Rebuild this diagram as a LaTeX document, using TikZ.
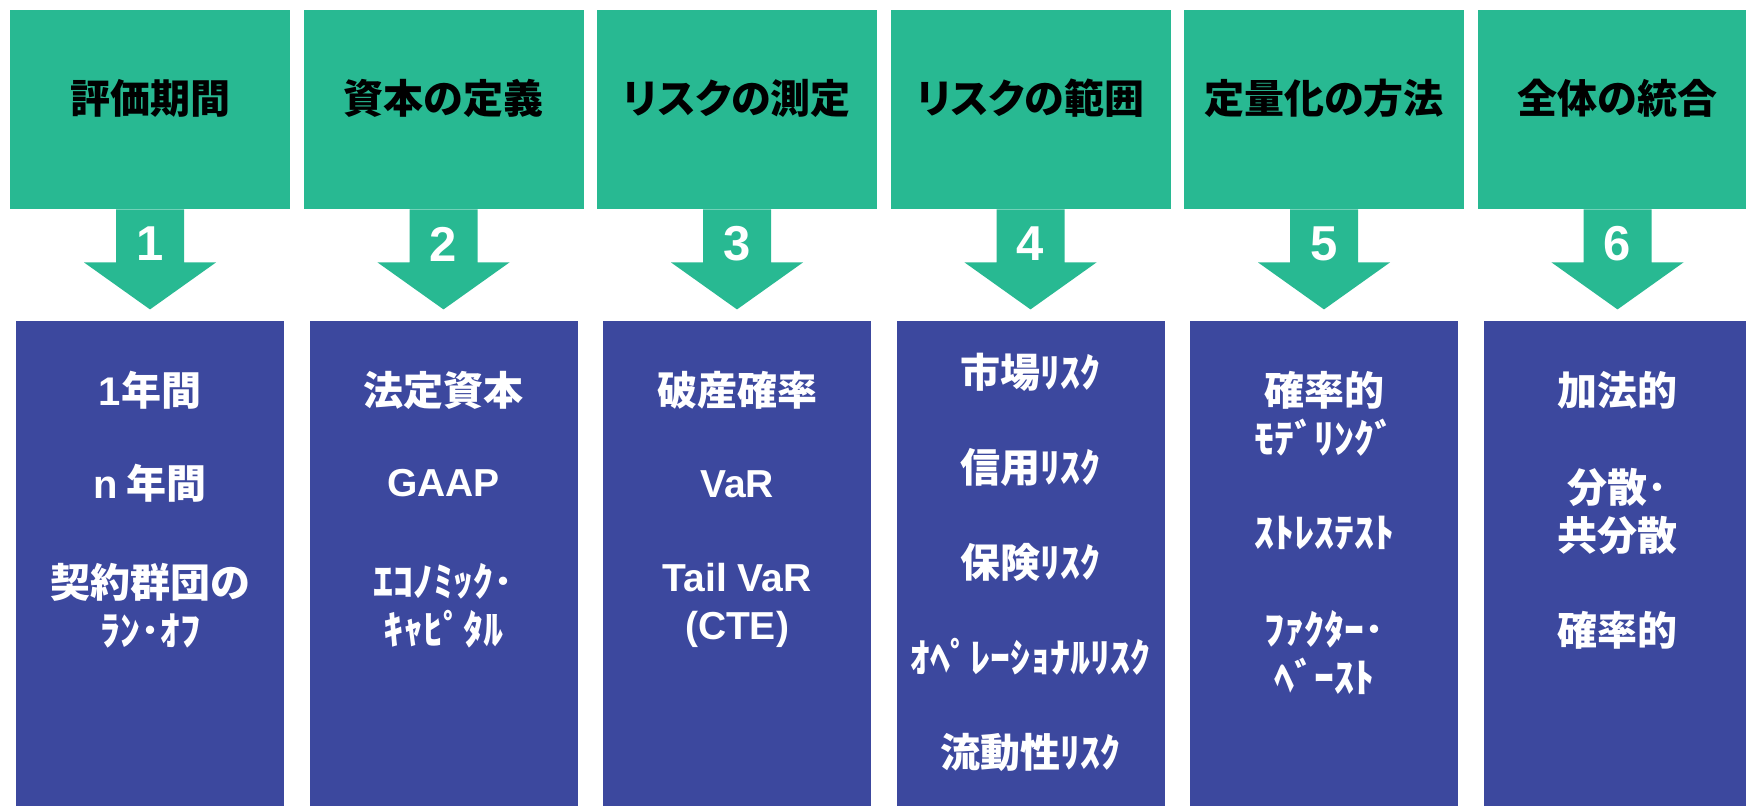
\documentclass[tikz,border=0pt]{standalone}
\usepackage{fontspec}
\newfontfamily\jp{Noto Sans CJK JP}
\newfontfamily\jpp{Noto Sans CJK JP}[RawFeature=+palt]
\newfontfamily\lat{Liberation Sans}
\definecolor{teal}{RGB}{40,185,146}
\definecolor{navy}{RGB}{60,72,158}
\tikzset{
  topbox/.style={fill=teal, draw=none, minimum width=140pt, minimum height=99.5pt, inner sep=0pt},
  bluebox/.style={fill=navy, draw=none, minimum width=134pt, minimum height=247pt, inner sep=0pt},
  title/.style={text=black, font=\jpp\bfseries\fontsize{20pt}{24pt}\selectfont, inner sep=0pt},
  num/.style={text=white, font=\lat\bfseries\fontsize{24.5pt}{28pt}\selectfont, inner sep=0pt},
  body/.style={text=white, font=\jp\bfseries\fontsize{20pt}{24pt}\selectfont, align=center, inner sep=0pt},
  latbody/.style={body, font=\lat\bfseries\fontsize{19.5pt}{24pt}\selectfont},
}
\begin{document}
\begin{tikzpicture}[x=0.5pt,y=-0.5pt]
\clip (0,0) rectangle (1746,805);
\fill[white] (0,0) rectangle (1746,805);
\foreach \i/\cx/\t in {1/150/評価期間, 2/443.5/資本の定義, 3/737/リスクの測定, 4/1030.5/リスクの範囲, 5/1324/定量化の方法, 6/1617.5/全体の統合} {
  \node[topbox] (top\i) at (\cx,109.5) {};
  \node[title] (title\i) at (\cx,98) {\t};
  \node[bluebox] (box\i) at (\cx,568) {};
  \fill[teal] ([xshift=-17pt]top\i.south) -- ++(0,53) -- ++(-32,0) -- ++(66,47) -- ++(66,-47) -- ++(-32,0) -- ++(0,-53) -- cycle;
  \node[num] (num\i) at (\cx,244) {\i};
}
% column 1
\node[body] (c1a) at (150,390) {{\lat 1}年間};
\node[body] (c1b) at (150,483) {{\lat n} 年間};
\node[body] (c1c) at (150,606) {契約群団の\\ﾗﾝ･ｵﾌ};
% column 2
\node[body] (c2a) at (443.5,390) {法定資本};
\node[latbody] (c2b) at (443.5,483) {GAAP};
\node[body] (c2c) at (443.5,606) {ｴｺﾉﾐｯｸ･\\ｷｬﾋﾟﾀﾙ};
% column 3
\node[body] (c3a) at (737,390) {破産確率};
\node[latbody] (c3b) at (737,484) {VaR};
\node[latbody] (c3c) at (737,605) {Tail VaR\\(CTE)};
% column 4
\node[body] (c4a) at (1030.5,372) {市場ﾘｽｸ};
\node[body] (c4b) at (1030.5,467) {信用ﾘｽｸ};
\node[body] (c4c) at (1030.5,562) {保険ﾘｽｸ};
\node[body] (c4d) at (1030.5,657) {ｵﾍﾟﾚｰｼｮﾅﾙﾘｽｸ};
\node[body] (c4e) at (1030.5,752) {流動性ﾘｽｸ};
% column 5
\node[body] (c5a) at (1324,413.5) {確率的\\ﾓﾃﾞﾘﾝｸﾞ};
\node[body] (c5b) at (1324,533) {ｽﾄﾚｽﾃｽﾄ};
\node[body] (c5c) at (1324,652.5) {ﾌｧｸﾀｰ･\\ﾍﾞｰｽﾄ};
% column 6
\node[body] (c6a) at (1617.5,390) {加法的};
\node[body] (c6b) at (1617.5,511) {分散･\\共分散};
\node[body] (c6c) at (1617.5,630) {確率的};
\end{tikzpicture}
\end{document}
